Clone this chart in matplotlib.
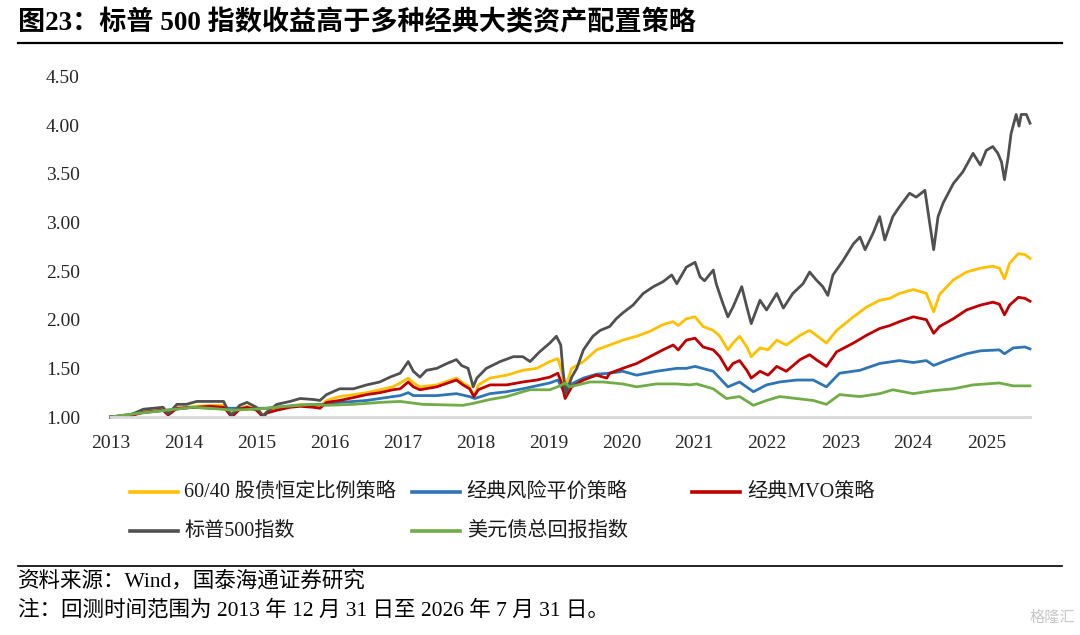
import matplotlib
matplotlib.use("Agg")
import matplotlib.pyplot as plt
from matplotlib.lines import Line2D

plt.rcParams['font.family'] = ['Liberation Serif', 'Noto Sans CJK SC', 'DejaVu Sans']

# ---------------- data ----------------
years = [2013, 2014, 2015, 2016, 2017, 2018, 2019, 2020, 2021, 2022, 2023, 2024, 2025]
yticks = [1.0, 1.5, 2.0, 2.5, 3.0, 3.5, 4.0, 4.5]

labels = ["60/40 股债恒定比例策略", "经典风险平价策略", "经典MVO策略", "标普500指数", "美元债总回报指数"]
colors = ["#FFC000", "#2E75B6", "#C00000", "#505050", "#70AD47"]

sp_t = [2013.00, 2013.27, 2013.45, 2013.59, 2013.72, 2013.79, 2013.91, 2014.04, 2014.18, 2014.36,
        2014.55, 2014.61, 2014.66, 2014.77, 2014.87, 2015.00, 2015.09, 2015.14, 2015.28, 2015.46,
        2015.60, 2015.78, 2015.87, 2015.96, 2016.14, 2016.33, 2016.51, 2016.69, 2016.83, 2016.97,
        2017.08, 2017.15, 2017.24, 2017.33, 2017.47, 2017.61, 2017.74, 2017.81, 2017.90, 2017.97,
        2018.02, 2018.15, 2018.34, 2018.52, 2018.65, 2018.75, 2018.88, 2019.02, 2019.11, 2019.17,
        2019.20, 2019.24, 2019.32, 2019.39, 2019.48, 2019.61, 2019.71, 2019.84, 2019.93, 2020.02,
        2020.16, 2020.30, 2020.44, 2020.57, 2020.69, 2020.76, 2020.89, 2021.01, 2021.08, 2021.14,
        2021.26, 2021.30, 2021.39, 2021.46, 2021.53, 2021.65, 2021.72, 2021.78, 2021.90, 2021.99,
        2022.13, 2022.22, 2022.35, 2022.49, 2022.58, 2022.67, 2022.76, 2022.83, 2022.90, 2023.04,
        2023.18, 2023.27, 2023.34, 2023.45, 2023.54, 2023.61, 2023.72, 2023.81, 2023.95, 2024.04,
        2024.16, 2024.22, 2024.28, 2024.34, 2024.41, 2024.55, 2024.68, 2024.82, 2024.92, 2025.00,
        2025.09, 2025.16, 2025.21, 2025.25, 2025.30, 2025.34, 2025.41, 2025.45, 2025.48, 2025.55,
        2025.60]
sp_v = [1.00, 1.02, 1.08, 1.09, 1.10, 1.03, 1.13, 1.13, 1.16, 1.16,
        1.16, 1.07, 1.02, 1.12, 1.15, 1.10, 1.01, 1.05, 1.13, 1.16,
        1.19, 1.18, 1.17, 1.23, 1.29, 1.29, 1.33, 1.36, 1.41, 1.45,
        1.57, 1.47, 1.41, 1.48, 1.50, 1.55, 1.59, 1.53, 1.50, 1.31,
        1.40, 1.50, 1.57, 1.62, 1.62, 1.57, 1.67, 1.76, 1.83, 1.74,
        1.48, 1.24, 1.41, 1.50, 1.69, 1.83, 1.89, 1.93, 2.01, 2.07,
        2.15, 2.27, 2.34, 2.39, 2.46, 2.37, 2.54, 2.59, 2.44, 2.40,
        2.51, 2.37, 2.17, 2.03, 2.13, 2.34, 2.13, 1.96, 2.20, 2.10,
        2.27, 2.12, 2.27, 2.37, 2.49, 2.41, 2.34, 2.25, 2.46, 2.61,
        2.78, 2.85, 2.72, 2.89, 3.06, 2.82, 3.06, 3.16, 3.30, 3.26,
        3.33, 3.02, 2.72, 3.06, 3.20, 3.40, 3.52, 3.71, 3.59, 3.74,
        3.78, 3.71, 3.62, 3.44, 3.67, 3.91, 4.11, 3.99, 4.11, 4.11,
        4.02]

y6040_t = [2013.00, 2013.27, 2013.45, 2013.72, 2013.79, 2013.91, 2014.18, 2014.36, 2014.55, 2014.61,
           2014.66, 2014.77, 2014.87, 2015.00, 2015.09, 2015.14, 2015.28, 2015.46, 2015.60, 2015.78,
           2015.87, 2015.96, 2016.14, 2016.33, 2016.51, 2016.69, 2016.87, 2016.97, 2017.08, 2017.15,
           2017.24, 2017.47, 2017.74, 2017.83, 2017.92, 2017.98, 2018.04, 2018.20, 2018.43, 2018.65,
           2018.84, 2019.02, 2019.13, 2019.18, 2019.23, 2019.32, 2019.48, 2019.66, 2019.84, 2020.02,
           2020.21, 2020.39, 2020.57, 2020.71, 2020.78, 2020.89, 2021.01, 2021.12, 2021.26, 2021.35,
           2021.46, 2021.53, 2021.62, 2021.72, 2021.78, 2021.90, 2022.01, 2022.13, 2022.26, 2022.45,
           2022.58, 2022.67, 2022.81, 2022.95, 2023.18, 2023.36, 2023.54, 2023.68, 2023.81, 2024.00,
           2024.18, 2024.28, 2024.36, 2024.55, 2024.73, 2024.92, 2025.09, 2025.18, 2025.25, 2025.32,
           2025.44, 2025.53, 2025.60]
y6040_v = [1.00, 1.02, 1.05, 1.07, 1.04, 1.09, 1.11, 1.12, 1.12, 1.07,
           1.03, 1.09, 1.11, 1.08, 1.02, 1.05, 1.09, 1.11, 1.13, 1.12,
           1.11, 1.17, 1.21, 1.23, 1.25, 1.28, 1.31, 1.35, 1.40, 1.35,
           1.31, 1.33, 1.40, 1.35, 1.31, 1.21, 1.33, 1.40, 1.43, 1.48,
           1.50, 1.57, 1.60, 1.48, 1.30, 1.50, 1.57, 1.69, 1.74, 1.79,
           1.83, 1.88, 1.95, 1.98, 1.94, 2.01, 2.03, 1.93, 1.89, 1.83,
           1.69, 1.76, 1.83, 1.72, 1.62, 1.71, 1.69, 1.79, 1.74, 1.84,
           1.89, 1.84, 1.76, 1.89, 2.03, 2.13, 2.20, 2.22, 2.27, 2.31,
           2.27, 2.08, 2.26, 2.41, 2.49, 2.53, 2.55, 2.53, 2.42, 2.58,
           2.68, 2.67, 2.63]

rp_t = [2013.00, 2013.40, 2013.77, 2014.13, 2014.36, 2014.68, 2014.96, 2015.14, 2015.41, 2015.78,
        2015.96, 2016.14, 2016.33, 2016.51, 2016.69, 2016.87, 2016.97, 2017.08, 2017.15, 2017.47,
        2017.74, 2017.92, 2017.99, 2018.20, 2018.43, 2018.65, 2019.02, 2019.13, 2019.20, 2019.29,
        2019.48, 2019.66, 2019.84, 2020.02, 2020.21, 2020.48, 2020.76, 2020.89, 2021.01, 2021.26,
        2021.46, 2021.62, 2021.81, 2021.99, 2022.17, 2022.40, 2022.63, 2022.81, 2022.99, 2023.27,
        2023.54, 2023.81, 2024.00, 2024.18, 2024.28, 2024.45, 2024.73, 2024.92, 2025.18, 2025.25,
        2025.37, 2025.53, 2025.60]
rp_v = [1.00, 1.04, 1.07, 1.10, 1.09, 1.09, 1.09, 1.09, 1.11, 1.13,
        1.13, 1.15, 1.16, 1.17, 1.19, 1.21, 1.22, 1.25, 1.22, 1.22,
        1.24, 1.21, 1.19, 1.24, 1.26, 1.29, 1.35, 1.38, 1.28, 1.33,
        1.40, 1.44, 1.45, 1.47, 1.43, 1.47, 1.50, 1.50, 1.52, 1.47,
        1.31, 1.36, 1.26, 1.33, 1.36, 1.38, 1.38, 1.31, 1.45, 1.48,
        1.55, 1.58, 1.56, 1.58, 1.53, 1.58, 1.65, 1.68, 1.69, 1.65,
        1.71, 1.72, 1.70]

mvo_t = [2013.00, 2013.27, 2013.45, 2013.72, 2013.79, 2013.91, 2014.18, 2014.36, 2014.55, 2014.61,
         2014.66, 2014.77, 2014.87, 2015.00, 2015.09, 2015.14, 2015.28, 2015.46, 2015.60, 2015.78,
         2015.87, 2015.96, 2016.14, 2016.33, 2016.51, 2016.69, 2016.87, 2016.97, 2017.08, 2017.15,
         2017.24, 2017.47, 2017.74, 2017.83, 2017.92, 2017.98, 2018.04, 2018.20, 2018.43, 2018.65,
         2018.84, 2019.02, 2019.13, 2019.18, 2019.23, 2019.32, 2019.48, 2019.66, 2019.80, 2019.84,
         2020.02, 2020.21, 2020.39, 2020.57, 2020.71, 2020.78, 2020.89, 2021.01, 2021.12, 2021.26,
         2021.35, 2021.46, 2021.53, 2021.62, 2021.72, 2021.78, 2021.90, 2022.01, 2022.13, 2022.26,
         2022.45, 2022.58, 2022.67, 2022.81, 2022.95, 2023.18, 2023.36, 2023.54, 2023.68, 2023.81,
         2024.00, 2024.18, 2024.28, 2024.36, 2024.55, 2024.73, 2024.92, 2025.09, 2025.18, 2025.25,
         2025.32, 2025.44, 2025.53, 2025.60]
mvo_v = [1.00, 1.01, 1.05, 1.07, 1.02, 1.09, 1.10, 1.11, 1.10, 1.05,
         1.00, 1.08, 1.10, 1.07, 1.00, 1.04, 1.07, 1.10, 1.11, 1.10,
         1.09, 1.15, 1.17, 1.20, 1.23, 1.25, 1.28, 1.29, 1.36, 1.31,
         1.28, 1.31, 1.38, 1.33, 1.29, 1.21, 1.28, 1.33, 1.33, 1.36,
         1.38, 1.41, 1.45, 1.35, 1.19, 1.31, 1.38, 1.43, 1.40, 1.45,
         1.50, 1.55, 1.62, 1.69, 1.74, 1.69, 1.79, 1.81, 1.72, 1.69,
         1.62, 1.48, 1.55, 1.58, 1.48, 1.40, 1.47, 1.43, 1.52, 1.47,
         1.59, 1.64, 1.59, 1.52, 1.67, 1.76, 1.84, 1.91, 1.94, 1.98,
         2.03, 2.00, 1.86, 1.93, 2.01, 2.10, 2.15, 2.18, 2.16, 2.05,
         2.15, 2.23, 2.22, 2.19]

bond_t = [2013.00, 2013.40, 2013.77, 2014.13, 2014.36, 2014.68, 2014.96, 2015.14, 2015.41, 2015.78,
          2015.96, 2016.33, 2016.69, 2016.97, 2017.28, 2017.83, 2017.97, 2018.20, 2018.43, 2018.65,
          2018.75, 2019.02, 2019.16, 2019.23, 2019.29, 2019.57, 2019.75, 2020.02, 2020.21, 2020.48,
          2020.76, 2020.94, 2021.03, 2021.26, 2021.44, 2021.62, 2021.81, 2021.99, 2022.17, 2022.40,
          2022.63, 2022.81, 2022.99, 2023.27, 2023.54, 2023.72, 2024.00, 2024.27, 2024.55, 2024.82,
          2025.18, 2025.37, 2025.60]
bond_v = [1.00, 1.04, 1.07, 1.10, 1.09, 1.07, 1.08, 1.09, 1.11, 1.13,
          1.12, 1.13, 1.15, 1.16, 1.13, 1.12, 1.14, 1.18, 1.21, 1.26,
          1.28, 1.28, 1.32, 1.35, 1.31, 1.36, 1.36, 1.34, 1.31, 1.34,
          1.34, 1.33, 1.34, 1.29, 1.19, 1.21, 1.12, 1.17, 1.21, 1.19,
          1.17, 1.13, 1.23, 1.21, 1.24, 1.28, 1.24, 1.27, 1.29, 1.33,
          1.35, 1.32, 1.32]

title = "图23：标普 500 指数收益高于多种经典大类资产配置策略"
source = "资料来源：Wind，国泰海通证券研究"
note = "注：回测时间范围为 2013 年 12 月 31 日至 2026 年 7 月 31 日。"

# ---------------- figure ----------------
W, H = 1080, 635
fig = plt.figure(figsize=(W / 100, H / 100), dpi=100)
fig.patch.set_facecolor("white")

def fx(px):
    return px / W

def fy(py):
    return 1 - py / H

ax_l, ax_r, ax_t, ax_b = 110.5, 1030, 76.5, 417
ax = fig.add_axes([fx(ax_l), fy(ax_b), fx(ax_r - ax_l), (ax_b - ax_t) / H])

series = [(y6040_t, y6040_v), (rp_t, rp_v), (mvo_t, mvo_v), (sp_t, sp_v), (bond_t, bond_v)]
for (t, v), c in zip(series, colors):
    ax.plot(t, v, color=c, lw=2.0, solid_joinstyle="round", clip_on=False)

ax.set_xlim(2013.0, 2025.6)
ax.set_ylim(1.0, 4.5)
ax.set_xticks(years)
ax.set_xticklabels([str(y) for y in years])
ax.set_yticks(yticks)
ax.set_yticklabels([f"{v:.2f}" for v in yticks])
ax.tick_params(axis="both", length=0, labelsize=14, colors="#262626")
ax.tick_params(axis="x", pad=13)
ax.tick_params(axis="y", pad=22)
for s in ["top", "right", "left"]:
    ax.spines[s].set_visible(False)
ax.spines["bottom"].set_color("#D9D9D9")
ax.spines["bottom"].set_linewidth(2)
ax.set_facecolor("none")

# title and rules
fig.text(fx(18), fy(23), title, fontsize=19.5, fontweight="bold", ha="left", va="center", color="black")
fig.add_artist(Line2D([fx(18), fx(1062)], [fy(42.5), fy(42.5)], color="black", lw=1.6))
fig.add_artist(Line2D([fx(18), fx(1062)], [fy(566), fy(566)], color="black", lw=1.2))

# legend
leg_pos = [(129.5, 492), (411.8, 492), (692, 492), (129.5, 531), (411.8, 531)]
for (lx, ly), lab, c in zip(leg_pos, labels, colors):
    fig.add_artist(Line2D([fx(lx), fx(lx + 48)], [fy(ly), fy(ly)], color=c, lw=2.6))
    fig.text(fx(lx + 55), fy(ly), lab, fontsize=14.5, ha="left", va="center", color="#1a1a1a")

# source and note
fig.text(fx(18), fy(581), source, fontsize=15.5, ha="left", va="center", color="black")
fig.text(fx(18), fy(610), note, fontsize=15.5, ha="left", va="center", color="black")
fig.text(fx(1075), fy(618), "格隆汇", fontsize=11, ha="right", va="center", color="#C8C8C8")

fig.savefig("out.png", dpi=100, facecolor="white")
